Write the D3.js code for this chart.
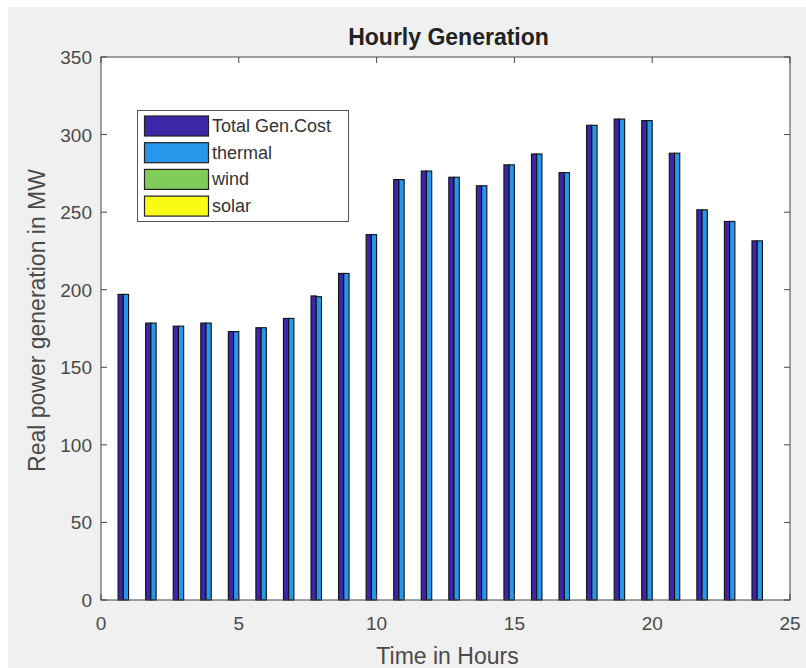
<!DOCTYPE html>
<html>
<head>
<meta charset="utf-8">
<script src="https://cdn.jsdelivr.net/npm/d3@7"></script>
<style>
    body { margin: 0; background: #fff; }
    text { font-family: "Liberation Sans", Arial, Helvetica, sans-serif; }
</style>
</head>
<body>
<script>
// chart data
let hours = [1, 2, 3, 4, 5, 6, 7, 8, 9, 10, 11, 12, 13, 14, 15, 16, 17, 18, 19, 20, 21, 22, 23, 24]
let totalGen = [197, 178.5, 176.5, 178.5, 173, 175.5, 181.5, 196, 210.5, 235.5, 271, 276.5, 272.5, 267, 280.5, 287.5, 275.5, 306, 310, 309, 288, 251.5, 244, 231.5]
let thermal = [197, 178.5, 176.5, 178.5, 173, 175.5, 181.5, 195.5, 210.5, 235.5, 271, 276.5, 272.5, 267, 280.5, 287.5, 275.5, 306, 310, 309, 288, 251.5, 244, 231.5]
let wind = [0, 0, 0, 0, 0, 0, 0, 0, 0, 0, 0, 0, 0, 0, 0, 0, 0, 0, 0, 0, 0, 0, 0, 0]
let solar = [0, 0, 0, 0, 0, 0, 0, 0, 0, 0, 0, 0, 0, 0, 0, 0, 0, 0, 0, 0, 0, 0, 0, 0]
let seriesNames = ['Total Gen.Cost', 'thermal', 'wind', 'solar']
let xTicks = [0, 5, 10, 15, 20, 25]
let yTicks = [0, 50, 100, 150, 200, 250, 300, 350]

{
    let width = 806
    let height = 668
    let svg = d3.select('body').append('svg')
    svg.attr('width', width)
        .attr('height', height)

    // figure background (matlab grey)
    svg.append('rect')
        .attr('x', 8)
        .attr('y', 7)
        .attr('width', width - 8)
        .attr('height', height - 7)
        .attr('fill', '#f0f0f0')

    let left = 101, right = 790, top = 57, bottom = 600
    let x = d3.scaleLinear().domain([0, 25]).range([left, right])
    let y = d3.scaleLinear().domain([0, 350]).range([bottom, top])
    let colors = ['#3e26a8', '#2797eb', '#80cc59', '#f9fb15']
    let color = d3.scaleOrdinal().domain(seriesNames).range(colors)
    // offset of each series inside a group, in hours
    let inner = d3.scaleBand().domain(seriesNames).range([-0.38, 0.38])

    svg.append('rect')
        .attr('x', left)
        .attr('y', top)
        .attr('width', right - left)
        .attr('height', bottom - top)
        .attr('fill', '#fff')

    let series = [totalGen, thermal, wind, solar].map((vals, i) => ({
        name: seriesNames[i],
        values: vals.map((v, j) => ({h: hours[j], v: v}))
    }))

    series.forEach(s => {
        svg.append('g').selectAll('rect').data(s.values)
            .enter()
            .append('rect')
            .attr('x', d => x(d.h + inner(s.name)))
            .attr('y', d => y(d.v))
            .attr('width', x(inner.bandwidth()) - x(0))
            .attr('height', d => y(0) - y(d.v))
            .attr('fill', color(s.name))
            .attr('stroke', '#111')
            .attr('stroke-width', 1.1)
    })

    // axes (ticks inward, box on)
    let axisColor = '#444'
    let tickLen = 6
    let axisG = svg.append('g')
    axisG.append('rect')
        .attr('x', left)
        .attr('y', top)
        .attr('width', right - left)
        .attr('height', bottom - top)
        .attr('fill', 'none')
        .attr('stroke', axisColor)
        .attr('stroke-width', 1)
    xTicks.forEach(t => {
        axisG.append('line')
            .attr('x1', x(t)).attr('x2', x(t))
            .attr('y1', bottom).attr('y2', bottom - tickLen)
            .attr('stroke', axisColor)
        axisG.append('line')
            .attr('x1', x(t)).attr('x2', x(t))
            .attr('y1', top).attr('y2', top + tickLen)
            .attr('stroke', axisColor)
        axisG.append('text')
            .attr('x', x(t))
            .attr('y', bottom + 30)
            .attr('text-anchor', 'middle')
            .attr('font-size', 19)
            .attr('fill', '#4a4a4a')
            .text(t)
    })
    yTicks.forEach(t => {
        axisG.append('line')
            .attr('x1', left).attr('x2', left + tickLen)
            .attr('y1', y(t)).attr('y2', y(t))
            .attr('stroke', axisColor)
        axisG.append('line')
            .attr('x1', right).attr('x2', right - tickLen)
            .attr('y1', y(t)).attr('y2', y(t))
            .attr('stroke', axisColor)
        axisG.append('text')
            .attr('x', left - 9)
            .attr('y', y(t) + 7)
            .attr('text-anchor', 'end')
            .attr('font-size', 19)
            .attr('fill', '#4a4a4a')
            .text(t)
    })

    // title and labels
    svg.append('text')
        .attr('x', (left + right) / 2 + 3)
        .attr('y', 45)
        .attr('text-anchor', 'middle')
        .attr('font-size', 23)
        .attr('font-weight', 'bold')
        .attr('fill', '#222')
        .text('Hourly Generation')
    svg.append('text')
        .attr('x', (left + right) / 2 + 2)
        .attr('y', 664)
        .attr('text-anchor', 'middle')
        .attr('font-size', 23)
        .attr('fill', '#4a4a4a')
        .text('Time in Hours')
    svg.append('text')
        .attr('transform', `translate(45, ${(top + bottom) / 2 - 8}) rotate(-90)`)
        .attr('text-anchor', 'middle')
        .attr('font-size', 23)
        .attr('fill', '#4a4a4a')
        .text('Real power generation in MW')

    // legend
    let lg = svg.append('g')
    lg.append('rect')
        .attr('x', 137.5)
        .attr('y', 110.5)
        .attr('width', 211)
        .attr('height', 111)
        .attr('fill', '#fff')
        .attr('stroke', '#555')
    seriesNames.forEach((name, i) => {
        let yy = 116 + i * 26.7
        lg.append('rect')
            .attr('x', 144.5)
            .attr('y', yy)
            .attr('width', 64)
            .attr('height', 20)
            .attr('fill', color(name))
            .attr('stroke', '#222')
            .attr('stroke-width', 1.2)
        lg.append('text')
            .attr('x', 212)
            .attr('y', yy + 16)
            .attr('font-size', 18)
            .attr('fill', '#333')
            .text(name)
    })
}
</script>
</body>
</html>
